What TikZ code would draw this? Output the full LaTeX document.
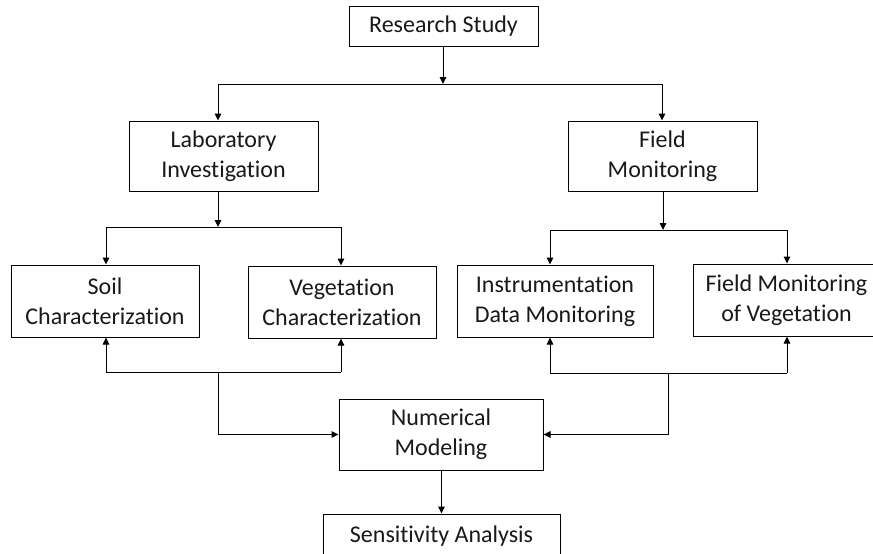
\documentclass[tikz,border=0pt]{standalone}
\usepackage{fontspec}
\setmainfont[Ligatures={NoCommon}]{Carlito}
\usetikzlibrary{arrows.meta}
\begin{document}
\begin{tikzpicture}[x=1pt,y=-1pt,
  box/.style={draw=black,line width=1pt,rectangle,align=center,inner sep=0pt,
    font=\fontsize{24}{30}\selectfont,text=black!90},
  arr/.style={line width=1pt,-{Triangle[length=7pt,width=6.5pt]}},
  ln/.style={line width=1pt}]
\useasboundingbox (0,0) rectangle (873,554);
\clip (0,0) rectangle (873,554);
\fill[white] (0,0) rectangle (873,554);
% nodes
\node[box,minimum width=189pt,minimum height=40pt] (rs) at (443.5,26) {Research Study};
\node[box,minimum width=189pt,minimum height=70pt] (li) at (223.5,156) {Laboratory\\Investigation};
\node[box,minimum width=189pt,minimum height=70pt] (fm) at (662.5,156) {Field\\Monitoring};
\node[box,minimum width=188pt,minimum height=72pt] (soil) at (105,301) {Soil\\Characterization};
\node[box,minimum width=188pt,minimum height=72pt] (veg) at (342,302) {Vegetation\\Characterization};
\node[box,minimum width=196pt,minimum height=72pt] (inst) at (555,301) {Instrumentation\\Data Monitoring};
\node[box,minimum width=187pt,minimum height=72pt] (fmv) at (786.5,300) {Field Monitoring\\of Vegetation};
\node[box,minimum width=204pt,minimum height=71pt] (nm) at (441,434.5) {Numerical\\Modeling};
\node[box,minimum width=237pt,minimum height=44pt] (sa) at (441.5,536) {Sensitivity Analysis};
% junction coordinates
\coordinate (t1) at (443,84);
\coordinate (t1l) at (218,84);
\coordinate (t1r) at (662,84);
\coordinate (t2) at (218,227);
\coordinate (t2l) at (106,227);
\coordinate (t2r) at (341,227);
\coordinate (t3) at (663,230);
\coordinate (t3l) at (550,230);
\coordinate (t3r) at (787,230);
\coordinate (b1) at (218,372);
\coordinate (b1l) at (106,372);
\coordinate (b1r) at (341,372);
\coordinate (b2) at (668,373);
\coordinate (b2l) at (550,373);
\coordinate (b2r) at (787,373);
% top level
\draw[arr] (rs.south -| t1) -- (t1);
\draw[ln] (t1l) -- (t1r);
\draw[arr] (t1l) -- (t1l |- li.north);
\draw[arr] (t1r) -- (t1r |- fm.north);
% lab branch
\draw[arr] (li.south -| t2) -- (t2);
\draw[ln] (t2l) -- (t2r);
\draw[arr] (t2l) -- (t2l |- soil.north);
\draw[arr] (t2r) -- (t2r |- veg.north);
% field branch
\draw[arr] (fm.south -| t3) -- (t3);
\draw[ln] (t3l) -- (t3r);
\draw[arr] (t3l) -- (t3l |- inst.north);
\draw[arr] (t3r) -- (t3r |- fmv.north);
% bottom left
\draw[ln] (b1l) -- (b1r);
\draw[arr] (b1l) -- (b1l |- soil.south);
\draw[arr] (b1r) -- (b1r |- veg.south);
\draw[arr] (b1) |- (nm.west);
% bottom right
\draw[ln] (b2l) -- (b2r);
\draw[arr] (b2l) -- (b2l |- inst.south);
\draw[arr] (b2r) -- (b2r |- fmv.south);
\draw[arr] (b2) |- (nm.east);
% to sensitivity
\draw[arr] (nm.south -| sa.north) -- (sa.north);
\end{tikzpicture}
\end{document}
